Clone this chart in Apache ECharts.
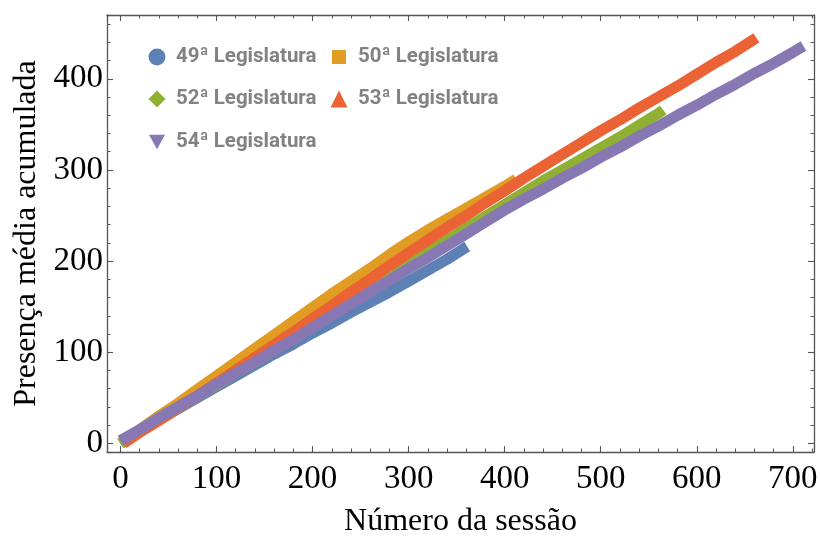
<!DOCTYPE html>
<html>
<head>
<meta charset="utf-8">
<script src="https://cdn.jsdelivr.net/npm/echarts@6/dist/echarts.min.js"></script>
<style>
  html, body { margin: 0; padding: 0; background: #ffffff; }
  #chart { width: 820px; height: 540px; }
</style>
</head>
<body>
<div id="chart"></div>
<script>
// Cumulative mean attendance per session, one pair of arrays per legislature
const sessions49 = [0, 20, 40, 60, 80, 100, 120, 140, 160, 180, 200, 220, 240, 260, 280, 300, 320, 340, 361];
const presence49 = [0, 13, 26, 38, 50, 62, 74, 86, 98, 109, 121, 132, 144, 155, 166, 178, 190, 202, 216];

const sessions50 = [0, 20, 40, 60, 80, 100, 120, 140, 160, 180, 200, 220, 240, 260, 280, 300, 320, 340, 360, 380, 400, 412];
const presence50 = [0, 15, 30, 44, 59, 74, 89, 104, 119, 134, 149, 164, 178, 192, 207, 221, 234, 246, 258, 270, 282, 290];

const sessions52 = [0, 20, 40, 60, 80, 100, 120, 140, 160, 180, 200, 220, 240, 260, 280, 300, 320, 340, 360, 380, 400, 420, 440, 460, 480, 500, 520, 540, 560, 565];
const presence52 = [0, 13, 27, 39, 52, 64, 77, 89, 102, 115, 129, 142, 156, 169, 183, 196, 210, 223, 236, 249, 262, 275, 288, 300, 312, 324, 336, 349, 362, 366];

const sessions53 = [3, 20, 40, 60, 80, 100, 120, 140, 160, 180, 200, 220, 240, 260, 280, 300, 320, 340, 360, 380, 400, 420, 440, 460, 480, 500, 520, 540, 560, 580, 600, 620, 640, 662];
const presence53 = [0, 12, 25, 39, 52, 66, 80, 94, 108, 122, 137, 151, 166, 180, 195, 209, 223, 237, 250, 264, 277, 291, 304, 317, 330, 343, 355, 368, 380, 392, 405, 418, 430, 445];

const sessions54 = [0, 20, 40, 60, 80, 100, 120, 140, 160, 180, 200, 220, 240, 260, 280, 300, 320, 340, 360, 380, 400, 420, 440, 460, 480, 500, 520, 540, 560, 580, 600, 620, 640, 660, 680, 700, 711];
const presence54 = [3, 15, 28, 40, 52, 65, 77, 89, 102, 114, 127, 140, 153, 166, 179, 192, 204, 217, 230, 243, 256, 268, 279, 291, 302, 314, 325, 337, 348, 360, 371, 383, 394, 406, 417, 429, 436];

const legislatures = ['49ª Legislatura', '50ª Legislatura', '52ª Legislatura', '53ª Legislatura', '54ª Legislatura'];
const colors = ['#5E81B5', '#E19C24', '#8FB032', '#EB6235', '#8778B3'];
const icons = ['circle', 'rect', 'diamond', 'triangle', 'path://M0,0 L10,0 L5,9 Z'];
const iconSizes = [17, 14, 17, 17, 16];
const xTitle = 'Número da sessão';
const yTitle = 'Presença média acumulada';

const seriesSessions = [sessions49, sessions50, sessions52, sessions53, sessions54];
const seriesPresence = [presence49, presence50, presence52, presence53, presence54];

const serifFont = '"Liberation Serif", "DejaVu Serif", serif';
const legendFont = 'Roboto, "Liberation Sans", sans-serif';
const frameColor = '#555555';

function pairs(xs, ys) { return xs.map((x, i) => [x, ys[i]]); }

const labelOnHundreds = v => (Math.abs(v % 100) < 1e-9 ? String(v) : '');

function frameAxis(extra) {
  return Object.assign({
    type: 'value',
    axisLine: { show: true, onZero: false, lineStyle: { color: frameColor, width: 1.3 } },
    axisTick: { show: true, inside: true, length: 6, lineStyle: { color: frameColor, width: 1.1 } },
    minorTick: { show: true, splitNumber: 5, length: 3.5, lineStyle: { color: frameColor, width: 1 } },
    splitLine: { show: false },
    minorSplitLine: { show: false }
  }, extra);
}

// Legend laid out as a 2-column grid: one legend component per entry,
// icon centres at fixed x, text starting a fixed distance after them
const legendIconX = [157, 339];
const legendRowY = [57, 99, 142];
const legends = legislatures.map((name, i) => {
  const size = iconSizes[i];
  return {
    data: [{ name: name, icon: icons[i] }],
    left: legendIconX[i % 2] - size / 2,
    top: legendRowY[Math.floor(i / 2)] - 12,
    padding: 0,
    itemWidth: size,
    itemHeight: size,
    itemStyle: { borderWidth: 0 },
    selectedMode: false,
    textStyle: {
      color: '#828282',
      fontFamily: legendFont,
      fontWeight: 'bold',
      fontSize: 20.5,
      lineHeight: 24,
      padding: [0, 0, 0, 14 - size / 2]
    }
  };
});

const option = {
  backgroundColor: '#ffffff',
  animation: false,
  grid: {
    left: 107, top: 15, width: 707, height: 437,
    containLabel: false,
    outerBoundsMode: 'none'
  },
  legend: legends,
  xAxis: [
    frameAxis({
      position: 'bottom', min: -14, max: 722, splitNumber: 7,
      name: xTitle, nameLocation: 'middle', nameGap: 54,
      nameTextStyle: { fontFamily: serifFont, fontSize: 32, color: '#000' },
      axisLabel: {
        show: true, margin: 11, formatter: labelOnHundreds,
        showMinLabel: false, showMaxLabel: false,
        fontFamily: serifFont, fontSize: 33, color: '#000'
      }
    }),
    frameAxis({
      position: 'top', min: -14, max: 722, splitNumber: 7,
      axisLabel: { show: false }
    })
  ],
  yAxis: [
    frameAxis({
      position: 'left', min: -9.5, max: 470, splitNumber: 5,
      name: yTitle, nameLocation: 'middle', nameGap: 62, nameRotate: 90,
      nameTextStyle: { fontFamily: serifFont, fontSize: 32, color: '#000' },
      axisLabel: {
        show: true, margin: 4, formatter: labelOnHundreds,
        showMinLabel: false, showMaxLabel: false,
        fontFamily: serifFont, fontSize: 33, color: '#000'
      }
    }),
    frameAxis({
      position: 'right', min: -9.5, max: 470, splitNumber: 5,
      axisLabel: { show: false }
    })
  ],
  series: legislatures.map((name, i) => ({
    name: name,
    type: 'line',
    xAxisIndex: 0,
    yAxisIndex: 0,
    data: pairs(seriesSessions[i], seriesPresence[i]),
    showSymbol: false,
    symbol: 'none',
    silent: true,
    color: colors[i],
    z: 2 + i,
    lineStyle: { color: colors[i], width: 11, cap: 'butt', join: 'round' }
  }))
};

const chart = echarts.init(document.getElementById('chart'), null, { renderer: 'canvas' });
chart.setOption(option);
</script>
</body>
</html>
